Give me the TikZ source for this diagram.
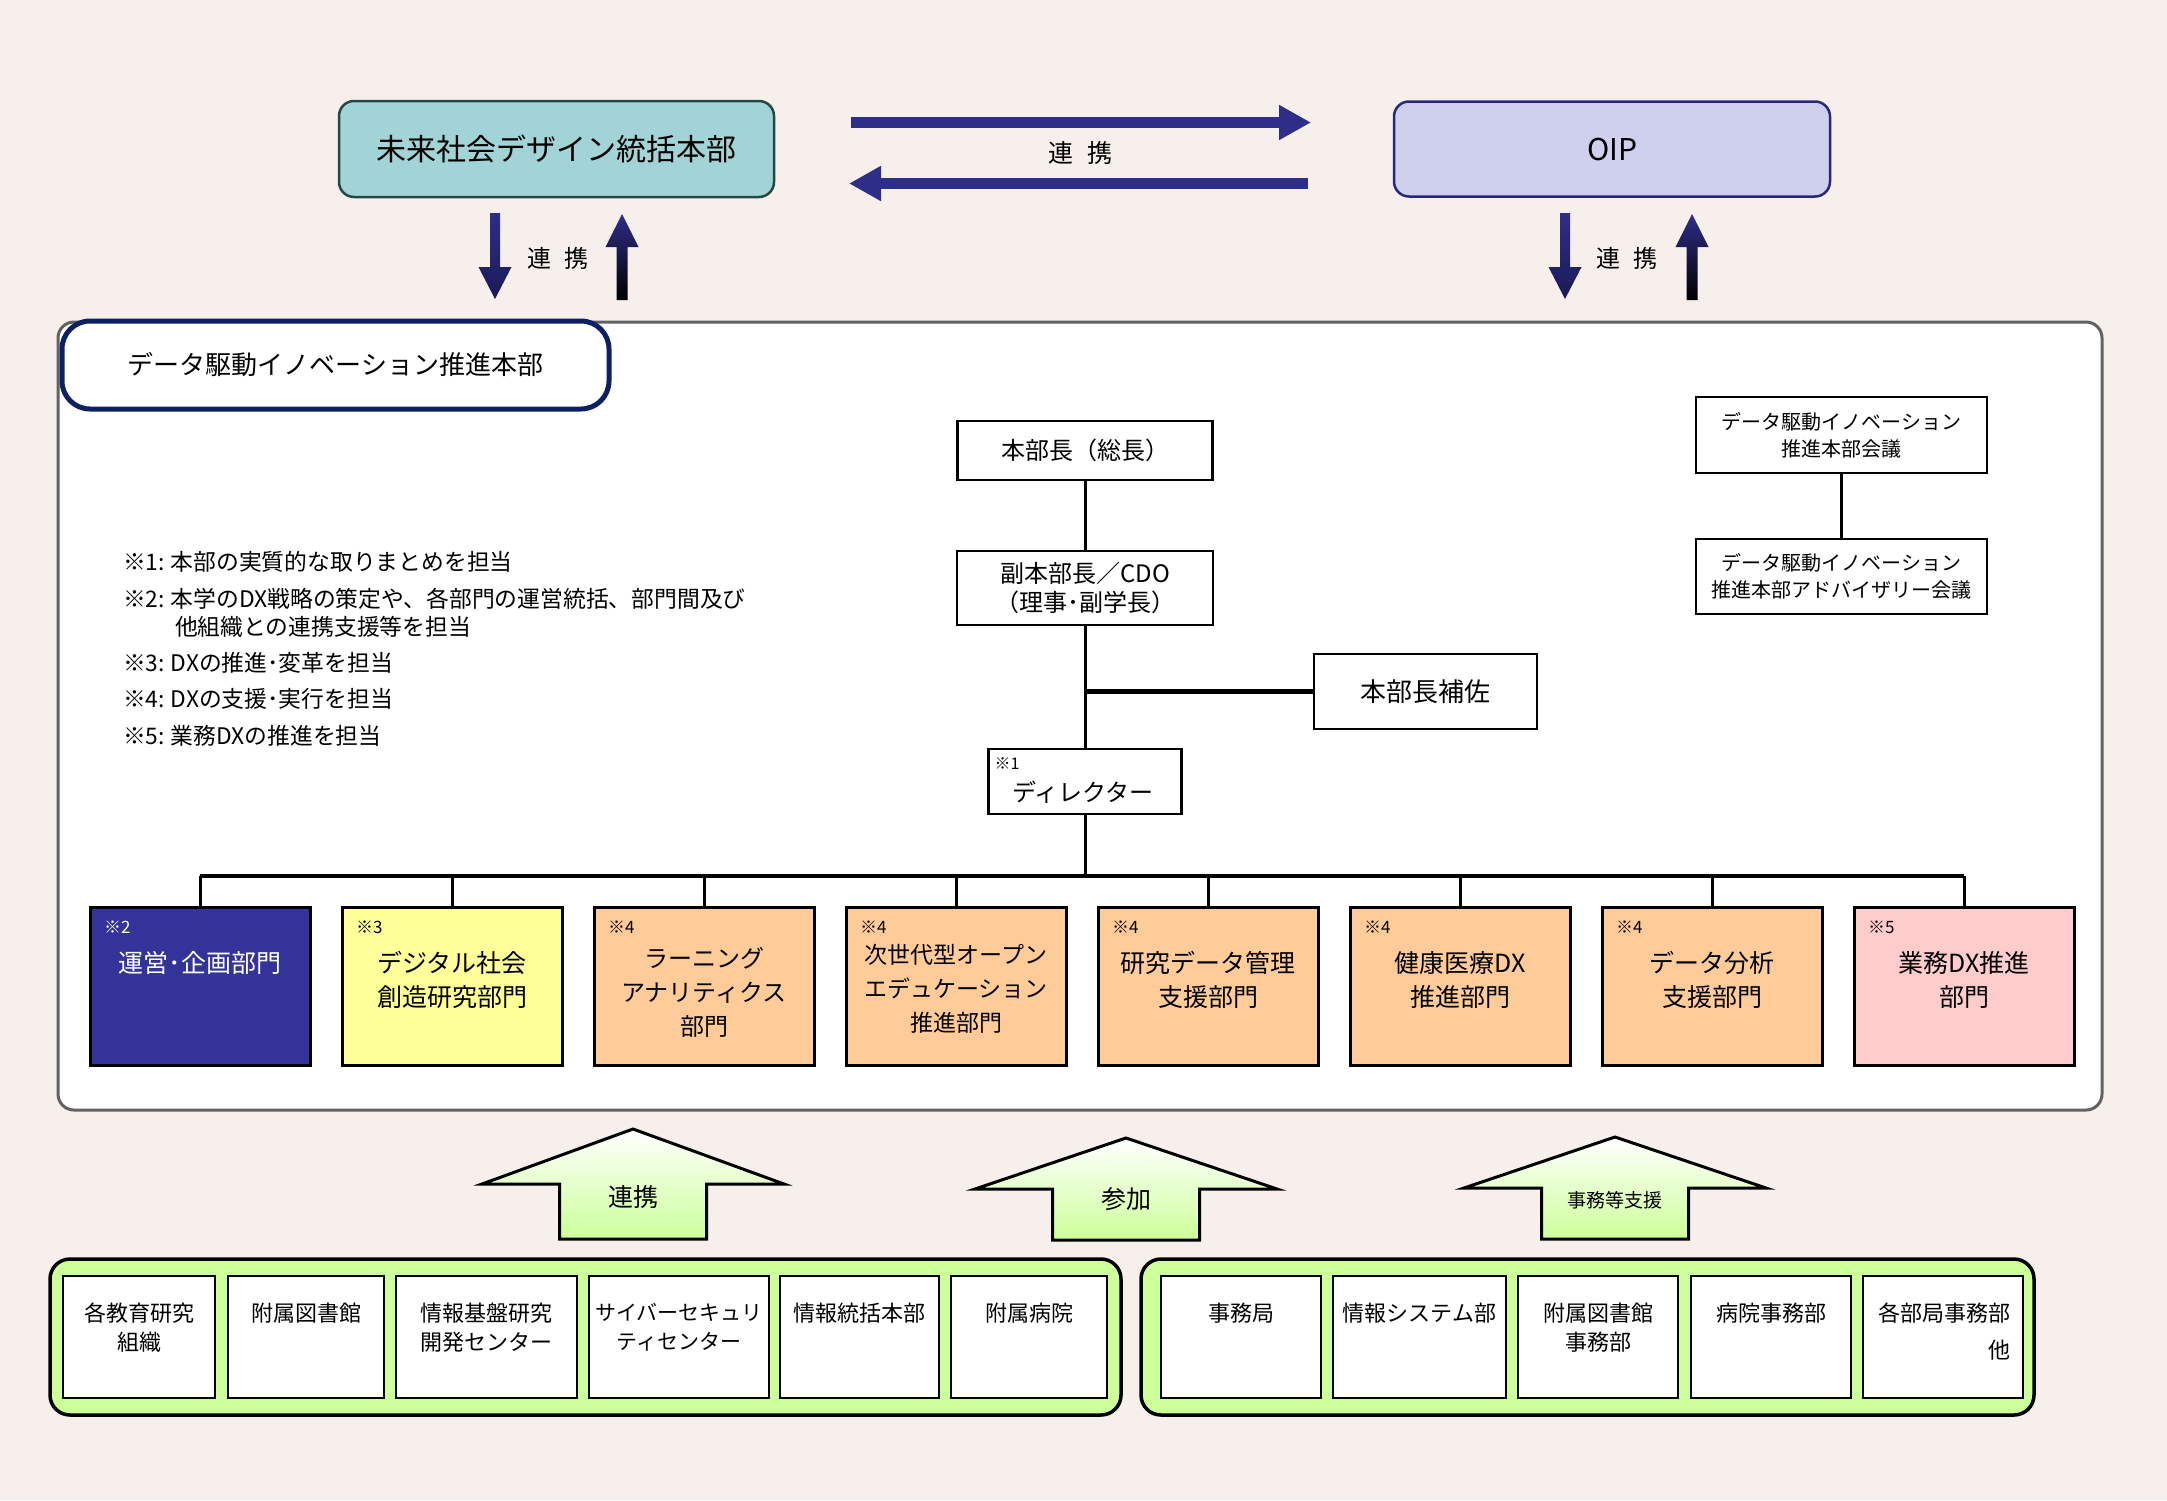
\documentclass[tikz,border=0pt]{standalone}
\usepackage{fontspec}
\setmainfont{Noto Sans CJK JP}
\usetikzlibrary{arrows.meta}
\definecolor{bgc}{HTML}{F7EFEC}
\definecolor{tealf}{HTML}{A2D3D6}
\definecolor{teald}{HTML}{234848}
\definecolor{oipf}{HTML}{CFD0EE}
\definecolor{oipd}{HTML}{28287A}
\definecolor{arrnavy}{HTML}{2E2E88}
\definecolor{arrnavydk}{HTML}{1A1A55}
\definecolor{titled}{HTML}{0B2163}
\definecolor{maind}{HTML}{626262}
\definecolor{deptA}{HTML}{333399}
\definecolor{deptB}{HTML}{FFFF99}
\definecolor{deptC}{HTML}{FFCC99}
\definecolor{deptD}{HTML}{FFCCCC}
\definecolor{grn}{HTML}{CCFF99}
\newcommand\fz[2]{\fontsize{#1pt}{#2pt}\selectfont}
\newcommand\ncol{:\hspace{6pt}}
\tikzset{
  every node/.style={inner sep=0pt, outer sep=0pt},
  plainbox/.style={draw=black, line width=2.5pt, fill=white},
  conn/.style={draw=black, line width=3pt},
  topbox/.style={rounded corners=15pt, line width=2.5pt, font={\fz{30}{36}}},
  hnavy/.style={draw=arrnavy, line width=11pt, -{Triangle[length=32pt,width=33pt]}},
  deptbox/.style={draw=black, line width=3pt, minimum width=220pt, minimum height=158pt},
  blockarr/.style={draw=black, line width=3pt, top color=white, bottom color=grn, line join=miter},
  group/.style={draw=black, line width=3.5pt, fill=grn, rounded corners=20pt},
  notetext/.style={anchor=west, align=left, font={\fz{22.8}{28}}},
}
\newcommand\dept[8]{%
  \node[deptbox, fill=#3] (#1) at (#2,986) {};
  \node[anchor=west, text=#4, font={\fz{17}{20}}] (#1n) at ([xshift=14pt,yshift=-20pt]#1.north west) {#5};
  \node[align=center, text=#4, font={\fz{#8}{34}}] (#1t) at (#2,#7) {#6};
}
\newcommand\lowunit[6]{%
  \node[plainbox, minimum width=#3pt, minimum height=122pt] (#1) at (#2,1337) {};
  \node[align=center, font={\fz{#6}{29}}] (#1t) at (#2,#5) {#4};
}
\newcommand\downarr[3]{%
  \shade[top color=arrnavy, bottom color=arrnavydk] (#1-5,#2) -- (#1-5,#3-32) -- (#1-16.5,#3-32) -- (#1,#3) -- (#1+16.5,#3-32) -- (#1+5,#3-32) -- (#1+5,#2) -- cycle;}
\newcommand\uparr[3]{%
  \shade[top color=arrnavy, middle color=arrnavydk, bottom color=black] (#1-5.5,#2) -- (#1-5.5,#3+33) -- (#1-16.5,#3+33) -- (#1,#3) -- (#1+16.5,#3+33) -- (#1+5.5,#3+33) -- (#1+5.5,#2) -- cycle;}
\newcommand\blockarrow[4]{%
  \path[blockarr] (#1,#2) -- (#1+151,#3) -- (#1+73.5,#3) -- (#1+73.5,#4) -- (#1-73.5,#4) -- (#1-73.5,#3) -- (#1-151,#3) -- cycle;}
\begin{document}
\begin{tikzpicture}[x=1pt,y=-1pt]
\useasboundingbox (0,0) rectangle (2167,1500);
\fill[bgc] (0,0) rectangle (2167,1500);

% top boxes
\node[topbox, draw=teald, fill=tealf, minimum width=435pt, minimum height=96pt] (mirai) at (556.5,149) {未来社会デザイン統括本部};
\node[topbox, draw=oipd, fill=oipf, minimum width=436pt, minimum height=95pt] (oip) at (1612,149) {OIP};

% horizontal arrows
\coordinate (r1) at (851,122.5);
\coordinate (r2) at (1311,122.5);
\coordinate (l1) at (1308,183.5);
\coordinate (l2) at (849,183.5);
\draw[hnavy] (r1) -- (r2);
\draw[hnavy] (l1) -- (l2);
\node[font={\fz{25}{30}}] (lk1) at (1080,153) {連\hspace{14pt}携};

% vertical arrows
\downarr{495}{213}{299}
\uparr{622}{300}{214}
\node[font={\fz{24}{30}}] (lk2) at (558,258) {連\hspace{13pt}携};
\downarr{1565}{213}{299}
\uparr{1692}{300}{214}
\node[font={\fz{24}{30}}] (lk3) at (1627,258) {連\hspace{13pt}携};

% main box
\node[draw=maind, line width=3pt, fill=white, rounded corners=16pt, minimum width=2044pt, minimum height=788pt] (main) at (1080,716) {};
\node[draw=titled, line width=5pt, fill=white, rounded corners=28pt, minimum width=547pt, minimum height=88pt, font={\fz{26}{30}}] (title) at (335.5,365) {データ駆動イノベーション推進本部};

% hierarchy
\node[plainbox, minimum width=255pt, minimum height=59pt, font={\fz{24}{29}}] (hq) at (1085,450.5) {本部長（総長）};
\node[plainbox, minimum width=256pt, minimum height=74pt, font={\fz{24}{29}}, align=center] (vice) at (1085,588) {副本部長／CDO\\（理事･副学長）};
\node[plainbox, minimum width=223pt, minimum height=75pt, font={\fz{26}{30}}] (asst) at (1425.5,691.5) {本部長補佐};
\node[plainbox, minimum width=193pt, minimum height=65pt] (dir) at (1085,781.5) {};
\node[anchor=west, font={\fz{16}{20}}] (dirn) at ([xshift=6pt,yshift=-15pt]dir.north west) {※1};
\node[font={\fz{24}{29}}] (dirt) at (1083,792) {ディレクター};

\node[plainbox, minimum width=291pt, minimum height=76pt, font={\fz{20}{27}}, align=center] (council) at (1841.5,435) {データ駆動イノベーション\\推進本部会議};
\node[plainbox, minimum width=291pt, minimum height=75pt, font={\fz{20}{27}}, align=center] (adv) at (1841.5,576.5) {データ駆動イノベーション\\推進本部アドバイザリー会議};
\draw[conn] (council.south) -- (adv.north);

\draw[conn] (hq.south) -- (vice.north);
\draw[conn] (vice.south) -- (dir.north);
\draw[conn, line width=5pt] (vice.south |- asst.west) -- (asst.west);

% notes
\node[notetext] (n1) at (123,562) {※1\ncol 本部の実質的な取りまとめを担当};
\node[notetext] (n2) at (123,613) {※2\ncol 本学のDX戦略の策定や、各部門の運営統括、部門間及び\\\hspace*{52pt}他組織との連携支援等を担当};
\node[notetext] (n3) at (123,663) {※3\ncol DXの推進･変革を担当};
\node[notetext] (n4) at (123,699) {※4\ncol DXの支援･実行を担当};
\node[notetext] (n5) at (123,736) {※5\ncol 業務DXの推進を担当};

% departments
\dept{d1}{200}{deptA}{white}{※2}{運営･企画部門}{963}{25}
\dept{d2}{452}{deptB}{black}{※3}{デジタル社会\\創造研究部門}{980}{25}
\dept{d3}{704}{deptC}{black}{※4}{ラーニング\\アナリティクス\\部門}{992}{24}
\dept{d4}{956}{deptC}{black}{※4}{次世代型オープン\\エデュケーション\\推進部門}{989}{23}
\dept{d5}{1208}{deptC}{black}{※4}{研究データ管理\\支援部門}{980}{25}
\dept{d6}{1460}{deptC}{black}{※4}{健康医療DX\\推進部門}{980}{25}
\dept{d7}{1712}{deptC}{black}{※4}{データ分析\\支援部門}{980}{25}
\dept{d8}{1964}{deptD}{black}{※5}{業務DX推進\\部門}{980}{25}

\coordinate (bus) at (1085,876);
\draw[conn] (dir.south) -- (dir.south |- bus);
\draw[conn, line width=4.5pt] (d1.north |- bus) -- (d8.north |- bus);
\foreach \d in {d1,d2,d3,d4,d5,d6,d7,d8}{
  \draw[conn] (\d.north |- bus) -- (\d.north);
}

% block arrows
\blockarrow{633}{1129}{1184}{1239}
\node[font={\fz{25}{30}}] (ba1) at (633,1197) {連携};
\blockarrow{1126}{1138}{1189}{1240}
\node[font={\fz{25}{30}}] (ba2) at (1126,1199) {参加};
\blockarrow{1615}{1137}{1188}{1239}
\node[font={\fz{19}{24}}] (ba3) at (1615,1200) {事務等支援};

% bottom groups
\node[group, minimum width=1071pt, minimum height=156pt] (gL) at (585.5,1337) {};
\node[group, minimum width=893pt, minimum height=156pt] (gR) at (1587.5,1337) {};

\lowunit{b1}{139}{152}{各教育研究\\組織}{1327.5}{22}
\lowunit{b2}{306}{156}{附属図書館}{1313}{22}
\lowunit{b3}{486.5}{181}{情報基盤研究\\開発センター}{1327.5}{22}
\lowunit{b4}{679}{180}{サイバーセキュリ\\ティセンター}{1327.5}{21}
\lowunit{b5}{859.5}{159}{情報統括本部}{1313}{22}
\lowunit{b6}{1029}{156}{附属病院}{1313}{22}
\lowunit{c1}{1241}{160}{事務局}{1313}{22}
\lowunit{c2}{1419.5}{173}{情報システム部}{1313}{22}
\lowunit{c3}{1598}{160}{附属図書館\\事務部}{1327.5}{22}
\lowunit{c4}{1771}{160}{病院事務部}{1313}{22}
\node[plainbox, minimum width=160pt, minimum height=122pt] (c5) at (1943,1337) {};
\node[align=right, font={\fz{22}{37}}] (c5t) at (1944,1331.5) {各部局事務部\\他};
\end{tikzpicture}
\end{document}
